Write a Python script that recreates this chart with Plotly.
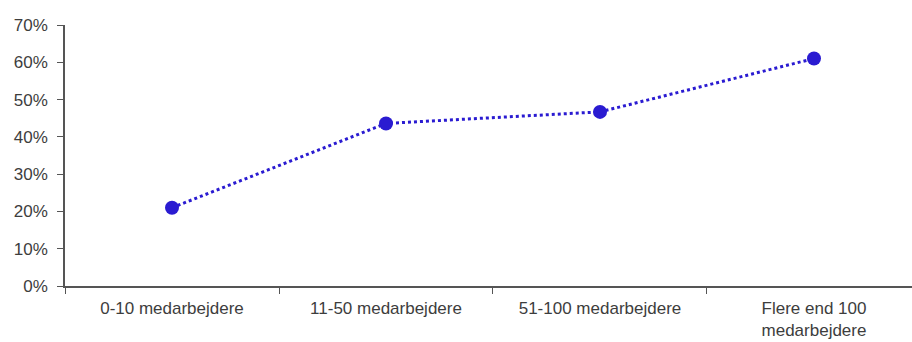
import plotly.graph_objects as go

categories = ["0-10 medarbejdere", "11-50 medarbejdere", "51-100 medarbejdere",
              "Flere end 100<br>medarbejdere"]
shares = [0.21, 0.436, 0.467, 0.61]
y_ticks = [0, 0.1, 0.2, 0.3, 0.4, 0.5, 0.6, 0.7]
y_labels = ["0%", "10%", "20%", "30%", "40%", "50%", "60%", "70%"]

color = "#2a1bd1"
axis_color = "#555555"

fig = go.Figure(go.Scatter(
    x=categories, y=shares, mode="lines+markers",
    line=dict(color=color, width=3, dash="dot"),
    marker=dict(color=color, size=14),
    hoverinfo="skip",
))

fig.update_layout(
    width=912, height=342,
    margin=dict(l=65, r=0, t=25, b=56),
    paper_bgcolor="white", plot_bgcolor="white",
    showlegend=False,
    font=dict(family="Liberation Sans, Arial, sans-serif", size=17, color="#3d3d3d"),
)
fig.update_xaxes(
    type="category", range=[-0.5, 3.458], automargin=False,
    showline=True, linecolor=axis_color, linewidth=1.5,
    ticks="outside", tickson="boundaries", ticklen=6, tickcolor=axis_color,
    ticklabelstandoff=6,
    showgrid=False, zeroline=False,
)
fig.update_yaxes(
    range=[0, 0.7], tickvals=y_ticks, ticktext=y_labels, automargin=False,
    showline=True, linecolor=axis_color, linewidth=1.5,
    ticks="outside", ticklen=6, tickcolor=axis_color,
    ticklabelstandoff=6,
    showgrid=False, zeroline=False,
)

fig.write_html("out.html")
